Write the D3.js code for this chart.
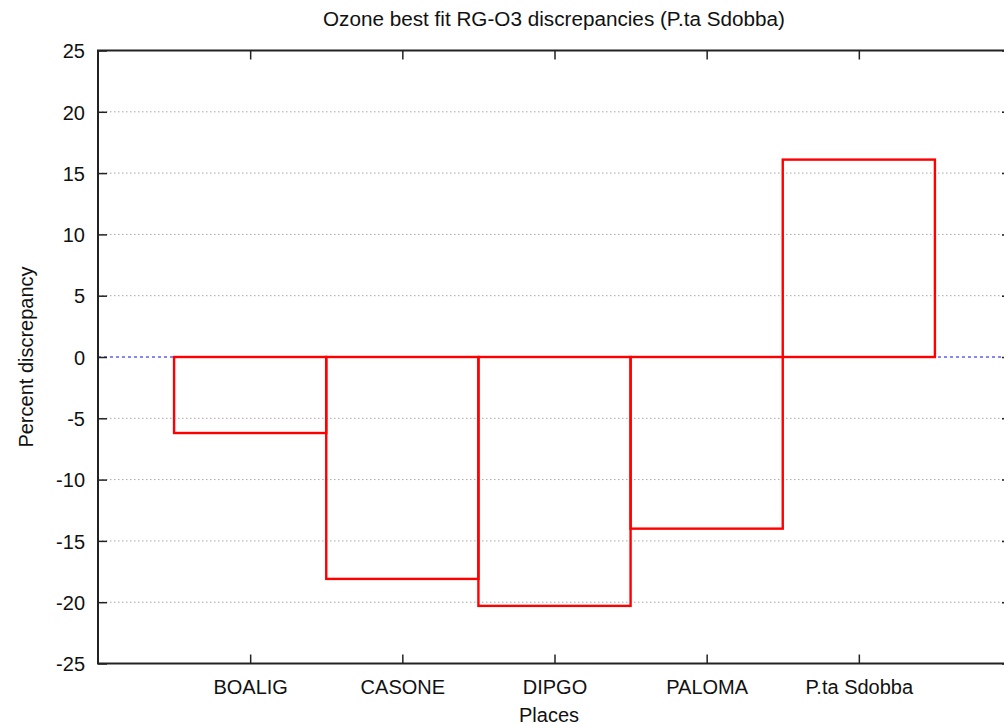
<!DOCTYPE html>
<html>
<head>
<meta charset="utf-8">
<script src="https://cdn.jsdelivr.net/npm/d3@7"></script>
<style>
  html, body { margin: 0; padding: 0; background: #fff; overflow: hidden; }
  svg { display: block; font-family: "Liberation Sans", Arial, sans-serif; }
</style>
</head>
<body>
<svg id="chart" width="1004" height="725"></svg>
<script>
// Station names and percent discrepancies
const places = ["BOALIG", "CASONE", "DIPGO", "PALOMA", "P.ta Sdobba"];
const discrepancy = [-6.2, -18.1, -20.3, -14.0, 16.1];
const yTicks = [-25, -20, -15, -10, -5, 0, 5, 10, 15, 20, 25];

const svg = d3.select("#chart");
const margin = { left: 98, top: 50.5, right: 1011, bottom: 663.5 };
const fontSize = "20px";
const textColor = "#111";

// x positions 1..5 for the places, range 0..6
const x = d3.scaleLinear().domain([0, places.length + 1]).range([margin.left, margin.right]);
const y = d3.scaleLinear().domain([-25, 25]).range([margin.bottom, margin.top]);

// Dotted grid
svg.append("g").selectAll("line")
  .data(yTicks.filter(d => d !== 0 && d !== 25 && d !== -25))
  .join("line")
  .attr("x1", margin.left).attr("x2", margin.right)
  .attr("y1", d => y(d)).attr("y2", d => y(d))
  .attr("stroke", "#a8a8a8").attr("stroke-width", 1)
  .attr("stroke-dasharray", "1.5,2.5");

// Zero axis
svg.append("line")
  .attr("x1", margin.left).attr("x2", margin.right)
  .attr("y1", y(0)).attr("y2", y(0))
  .attr("stroke", "#1010e0").attr("stroke-width", 1.2)
  .attr("stroke-dasharray", "3,3");

// Boxes (unfilled), width 1 centred on each place
svg.append("g").selectAll("rect")
  .data(places.map((p, i) => ({ p, v: discrepancy[i], i })))
  .join("rect")
  .attr("x", d => x(d.i + 0.5))
  .attr("width", d => x(d.i + 1.5) - x(d.i + 0.5))
  .attr("y", d => y(Math.max(0, d.v)))
  .attr("height", d => Math.abs(y(d.v) - y(0)))
  .attr("fill", "none")
  .attr("stroke", "#ff0000").attr("stroke-width", 2.4);

// Axes with inward ticks on all four sides
const tickLen = 9;
const axisColor = "#222";
const yAxis = d3.axisLeft(y).tickValues(yTicks).tickSize(-tickLen).tickFormat(d => String(d));
const gy = svg.append("g").attr("transform", `translate(${margin.left},0)`).call(yAxis);
gy.select(".domain").remove();
gy.selectAll(".tick line").attr("stroke", axisColor).attr("stroke-width", 1.5);
gy.selectAll(".tick text").attr("fill", textColor).style("font-size", fontSize)
  .attr("x", -13).attr("dy", "0.36em").attr("text-anchor", "end");

const gyr = svg.append("g").attr("transform", `translate(${margin.right},0)`)
  .call(d3.axisRight(y).tickValues(yTicks).tickSize(-tickLen).tickFormat(""));
gyr.select(".domain").remove();
gyr.selectAll(".tick line").attr("stroke", axisColor).attr("stroke-width", 1.5);

const xAxis = d3.axisBottom(x).tickValues(d3.range(1, places.length + 1))
  .tickFormat(d => places[d - 1]).tickSize(-tickLen);
const gx = svg.append("g").attr("transform", `translate(0,${margin.bottom})`).call(xAxis);
gx.select(".domain").remove();
gx.selectAll(".tick line").attr("stroke", axisColor).attr("stroke-width", 1.5);
gx.selectAll(".tick text").attr("fill", textColor).style("font-size", fontSize)
  .attr("y", 30.5).attr("dy", null);

const gxt = svg.append("g").attr("transform", `translate(0,${margin.top})`)
  .call(d3.axisTop(x).tickValues(d3.range(1, places.length + 1)).tickSize(-tickLen).tickFormat(""));
gxt.select(".domain").remove();
gxt.selectAll(".tick line").attr("stroke", axisColor).attr("stroke-width", 1.5);

// Plot border
svg.append("rect")
  .attr("x", margin.left).attr("y", margin.top)
  .attr("width", margin.right - margin.left).attr("height", margin.bottom - margin.top)
  .attr("fill", "none").attr("stroke", axisColor).attr("stroke-width", 2);

// Title and axis labels
svg.append("text").attr("x", 554).attr("y", 26)
  .attr("text-anchor", "middle").style("font-size", fontSize).attr("fill", textColor)
  .attr("textLength", 462).attr("lengthAdjust", "spacingAndGlyphs")
  .text("Ozone best fit RG-O3 discrepancies (P.ta Sdobba)");

svg.append("text").attr("x", 549).attr("y", 722)
  .attr("text-anchor", "middle").style("font-size", fontSize).attr("fill", textColor)
  .text("Places");

svg.append("text")
  .attr("transform", `translate(33,${(margin.top + margin.bottom) / 2}) rotate(-90)`)
  .attr("text-anchor", "middle").style("font-size", fontSize).attr("fill", textColor)
  .text("Percent discrepancy");
</script>
</body>
</html>
